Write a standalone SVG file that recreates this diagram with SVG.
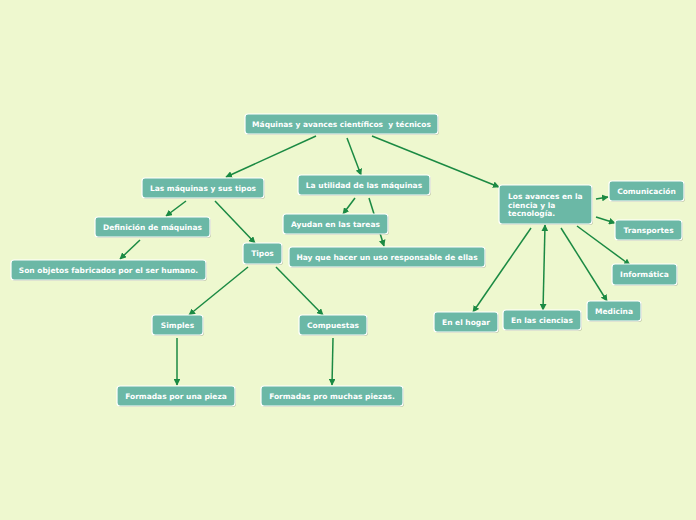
<svg xmlns="http://www.w3.org/2000/svg" width="696" height="520" viewBox="0 0 696 520">
<defs>
<marker id="ah" viewBox="0 0 10 10" refX="9" refY="5" markerWidth="4.5" markerHeight="4.5" orient="auto-start-reverse" markerUnits="strokeWidth">
<path d="M0,0 L10,5 L0,10 z" fill="#1b8a43"/>
</marker>
</defs>
<style>
.bg{fill:#eef8cf}
.n rect.b{fill:#6bb8a6;stroke:#ffffff;stroke-width:1.2}
.n rect.s{fill:#000;opacity:0.2}
.n text{font-family:"DejaVu Sans",Verdana,sans-serif;font-weight:bold;font-size:7.5px;fill:#ffffff;text-anchor:middle}
.n text.l{text-anchor:start}
.c line{stroke:#1b8a43;stroke-width:1.5;marker-end:url(#ah)}
</style>
<rect class="bg" x="0" y="0" width="696" height="520"/>
<g class="c">
<line x1="316" y1="136" x2="226" y2="177"/>
<line x1="347" y1="138" x2="361" y2="175"/>
<line x1="372" y1="136" x2="499" y2="187"/>
<line x1="186" y1="201" x2="166" y2="216"/>
<line x1="215" y1="201" x2="255" y2="243"/>
<line x1="140" y1="240" x2="120" y2="259"/>
<line x1="248" y1="267" x2="189" y2="315"/>
<line x1="276" y1="267" x2="323" y2="315"/>
<line x1="177" y1="338" x2="177" y2="385"/>
<line x1="333" y1="338" x2="332" y2="385"/>
<line x1="355" y1="198" x2="343" y2="214"/>
<line x1="369" y1="198" x2="384" y2="246"/>
<line x1="596" y1="199" x2="608" y2="197"/>
<line x1="596" y1="217" x2="615" y2="223"/>
<line x1="577" y1="226" x2="630" y2="265"/>
<line x1="561" y1="228" x2="607" y2="301"/>
<line x1="531" y1="228" x2="473" y2="312"/>
<line x1="544" y1="268" x2="545" y2="225"/>
<line x1="544" y1="268" x2="543" y2="310"/>
</g>
<g id="n-main" class="n"><rect class="s" x="246" y="115" width="193" height="20" rx="3"/><rect class="b" x="245" y="114" width="193" height="20" rx="3"/><text x="341.5" y="126.5" xml:space="preserve">Máquinas y avances científicos  y técnicos</text></g>
<g id="n-tipos-maq" class="n"><rect class="s" x="143" y="179" width="122" height="20" rx="3"/><rect class="b" x="142" y="178" width="122" height="20" rx="3"/><text x="203" y="190.5">Las máquinas y sus tipos</text></g>
<g id="n-utilidad" class="n"><rect class="s" x="299" y="176" width="132" height="20" rx="3"/><rect class="b" x="298" y="175" width="132" height="20" rx="3"/><text x="364" y="187.5">La utilidad de las máquinas</text></g>
<g id="n-avances" class="n"><rect class="s" x="500" y="186" width="93" height="39" rx="3"/><rect class="b" x="499" y="185" width="93" height="39" rx="3"/><text class="l" x="508" y="199">Los avances en la</text><text class="l" x="508" y="207.5">ciencia y la</text><text class="l" x="508" y="216">tecnología.</text></g>
<g id="n-definicion" class="n"><rect class="s" x="96" y="218" width="115" height="20" rx="3"/><rect class="b" x="95" y="217" width="115" height="20" rx="3"/><text x="152.5" y="229.5">Definición de máquinas</text></g>
<g id="n-objetos" class="n"><rect class="s" x="12" y="261" width="195" height="20" rx="3"/><rect class="b" x="11" y="260" width="195" height="20" rx="3"/><text x="108.5" y="272.5">Son objetos fabricados por el ser humano.</text></g>
<g id="n-tipos" class="n"><rect class="s" x="244" y="244" width="39" height="21" rx="3"/><rect class="b" x="243" y="243" width="39" height="21" rx="3"/><text x="262.5" y="256">Tipos</text></g>
<g id="n-ayudan" class="n"><rect class="s" x="284" y="215" width="105" height="20" rx="3"/><rect class="b" x="283" y="214" width="105" height="20" rx="3"/><text x="335.5" y="226.5">Ayudan en las tareas</text></g>
<g id="n-uso" class="n"><rect class="s" x="290" y="248" width="196" height="20" rx="3"/><rect class="b" x="289" y="247" width="196" height="20" rx="3"/><text x="387" y="259.5">Hay que hacer un uso responsable de ellas</text></g>
<g id="n-simples" class="n"><rect class="s" x="153" y="316" width="51" height="20" rx="3"/><rect class="b" x="152" y="315" width="51" height="20" rx="3"/><text x="177.5" y="327.5">Simples</text></g>
<g id="n-compuestas" class="n"><rect class="s" x="300" y="316" width="68" height="20" rx="3"/><rect class="b" x="299" y="315" width="68" height="20" rx="3"/><text x="333" y="327.5">Compuestas</text></g>
<g id="n-una-pieza" class="n"><rect class="s" x="118" y="387" width="118" height="20" rx="3"/><rect class="b" x="117" y="386" width="118" height="20" rx="3"/><text x="176" y="398.5">Formadas por una pieza</text></g>
<g id="n-muchas" class="n"><rect class="s" x="262" y="387" width="142" height="20" rx="3"/><rect class="b" x="261" y="386" width="142" height="20" rx="3"/><text x="332" y="398.5">Formadas pro muchas piezas.</text></g>
<g id="n-comunicacion" class="n"><rect class="s" x="610" y="182" width="75" height="20" rx="3"/><rect class="b" x="609" y="181" width="75" height="20" rx="3"/><text x="646.5" y="193.5">Comunicación</text></g>
<g id="n-transportes" class="n"><rect class="s" x="616" y="221" width="67" height="20" rx="3"/><rect class="b" x="615" y="220" width="67" height="20" rx="3"/><text x="648.5" y="232.5">Transportes</text></g>
<g id="n-informatica" class="n"><rect class="s" x="613" y="265" width="65" height="21" rx="3"/><rect class="b" x="612" y="264" width="65" height="21" rx="3"/><text x="644.5" y="277">Informática</text></g>
<g id="n-medicina" class="n"><rect class="s" x="588" y="302" width="54" height="20" rx="3"/><rect class="b" x="587" y="301" width="54" height="20" rx="3"/><text x="614" y="313.5">Medicina</text></g>
<g id="n-hogar" class="n"><rect class="s" x="435" y="313" width="64" height="20" rx="3"/><rect class="b" x="434" y="312" width="64" height="20" rx="3"/><text x="466" y="324.5">En el hogar</text></g>
<g id="n-ciencias" class="n"><rect class="s" x="504" y="311" width="78" height="20" rx="3"/><rect class="b" x="503" y="310" width="78" height="20" rx="3"/><text x="542" y="322.5">En las ciencias</text></g>
</svg>
